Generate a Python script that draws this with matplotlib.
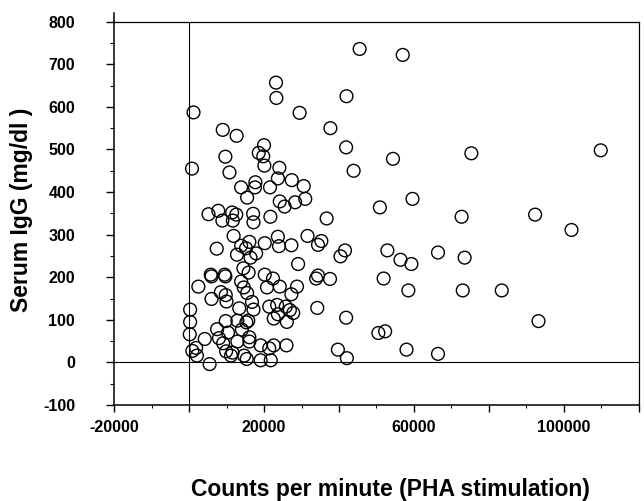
import matplotlib
matplotlib.use("Agg")
import matplotlib.pyplot as plt
from matplotlib.ticker import MultipleLocator, FuncFormatter

# Counts per minute (PHA stimulation) and serum IgG (mg/dl)
cpm = [45500, 57000, 23200, 23300, 42000, 29500, 1200, 37700, 9000, 12700,
       20000, 41900, 109800, 75300, 18600, 19800, 20100, 9700, 54400, 800,
       10800, 24100, 43900, 23700, 27400, 17700, 30600, 13900, 17600, 21600,
       15500, 31000, 28300, 59600, 24200, 25500, 50900, 7800, 5200, 11500,
       12600, 11700, 8900, 17100, 17200, 21700, 36700, 72700, 92300, 102000,
       11900, 31600, 23700, 16100, 20200, 35300, 34400, 27300, 24000, 13900,
       15200, 7400, 17900, 16400, 12800, 41600, 40400, 52900, 66400, 56400,
       59300, 73500, 29100, 14500, 5800, 6000, 9500, 9700, 15900, 20200,
       22400, 13900, 24200, 20800, 28800, 34400, 33900, 37600, 51900, 2500,
       6000, 8500, 9800, 10000, 14600, 15500, 16800, 17200, 27300, 58500,
       73000, 83400, 21400, 23500, 25800, 26900, 27800, 23700, 22600, 26100,
       34200, 13400, 300, 300, 200, 9800, 12900, 15300, 15800, 41900,
       93200, 7500, 10400, 4200, 9100, 14100, 16100, 16100, 50500, 52300,
       8000, 12900, 19100, 21400, 22600, 26000, 1900, 900, 2100, 5500,
       9900, 11600, 11200, 14700, 15400, 19100, 21800, 39700, 42100, 58000,
       66400]
igg = [736, 722, 657, 621, 625, 586, 587, 550, 546, 532,
       510, 505, 498, 491, 492, 484, 462, 483, 478, 455,
       446, 457, 450, 432, 428, 423, 414, 411, 411, 411,
       387, 384, 376, 384, 378, 366, 364, 356, 348, 352,
       347, 333, 333, 349, 329, 342, 338, 342, 347, 311,
       297, 297, 295, 283, 280, 285, 276, 275, 273, 274,
       268, 267, 256, 246, 253, 263, 249, 263, 258, 241,
       231, 246, 231, 221, 206, 202, 206, 202, 211, 206,
       197, 190, 178, 176, 178, 204, 197, 196, 197, 178,
       149, 165, 158, 143, 176, 163, 142, 124, 160, 169,
       169, 169, 131, 135, 131, 123, 116, 113, 103, 95,
       128, 127, 124, 95, 66, 97, 98, 94, 98, 105,
       97, 78, 70, 55, 45, 77, 59, 49, 69, 73,
       57, 49, 40, 33, 40, 40, 34, 27, 16, -4,
       26, 23, 16, 16, 8, 5, 5, 30, 10, 30,
       20]

x_labeled = [-20000, 20000, 60000, 100000]

plt.rcParams['font.family'] = ['Liberation Sans', 'DejaVu Sans']
plt.rcParams['axes.unicode_minus'] = False

fig = plt.figure(figsize=(6.44, 5.01), dpi=100)
ax = fig.add_axes([114 / 644, 1 - 405 / 501, (639 - 114) / 644, (405 - 21.7) / 501])

ax.axhline(0, color='black', lw=0.8, zorder=1)
ax.axvline(0, color='black', lw=0.8, zorder=1)
ax.scatter(cpm, igg, s=9.2 ** 2, facecolors='none', edgecolors='black',
           linewidths=1.0, zorder=3)

ax.set_xlim(-20000, 120000)
ax.set_ylim(-100, 800)

ax.xaxis.set_major_locator(MultipleLocator(20000))
ax.xaxis.set_minor_locator(MultipleLocator(10000))
ax.xaxis.set_major_formatter(FuncFormatter(
    lambda v, p: f"{int(round(v))}" if int(round(v)) in x_labeled else ""))
ax.yaxis.set_major_locator(MultipleLocator(100))
ax.yaxis.set_minor_locator(MultipleLocator(50))

ax.tick_params(axis='both', which='major', direction='out', width=1.0,
               labelsize=11.5, colors='black')
ax.tick_params(axis='x', which='major', length=5, pad=6)
ax.tick_params(axis='y', which='major', length=6, pad=22)
ax.tick_params(axis='x', which='minor', direction='out', length=2.5, width=0.8)
ax.tick_params(axis='y', which='minor', direction='out', length=3, width=0.8)
for lab in ax.get_xticklabels() + ax.get_yticklabels():
    lab.set_fontweight('bold')

for side in ['left', 'bottom']:
    ax.spines[side].set_linewidth(1.1)
for side in ['top', 'right']:
    ax.spines[side].set_linewidth(0.9)

# slight extension of the left axis line above the frame
ax.plot([0, 0], [1.0, 1.022], transform=ax.transAxes, color='black', lw=1.1,
        clip_on=False)

ax.set_xlabel("Counts per minute (PHA stimulation)", fontsize=16.5, fontweight='bold')
ax.set_ylabel("Serum IgG (mg/dl )", fontsize=16.5, fontweight='bold')
ax.xaxis.set_label_coords(0.526, -0.19)
ax.yaxis.set_label_coords(-0.154, 0.51)

fig.savefig('out.png', dpi=100)
